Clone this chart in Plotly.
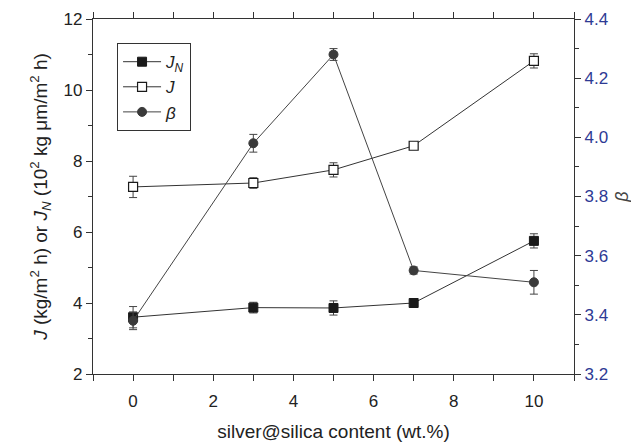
import plotly.graph_objects as go

content = [0, 3, 5, 7, 10]
JN = [3.60, 3.87, 3.86, 4.00, 5.75]
JN_err = [0.30, 0.15, 0.20, 0.05, 0.20]
J = [7.27, 7.38, 7.75, 8.43, 10.82]
J_err = [0.30, 0.15, 0.20, 0.05, 0.20]
beta = [3.38, 3.98, 4.28, 3.55, 3.51]
beta_err = [0.03, 0.03, 0.02, 0.012, 0.04]

font = "Liberation Sans, Arial, sans-serif"
line_col = "#333333"
blue = "#2e3a94"

fig = go.Figure()
fig.add_trace(go.Scatter(
    x=content, y=JN, mode="lines+markers", name="<i>J<sub>N</sub></i>",
    line=dict(color=line_col, width=1),
    marker=dict(symbol="square", size=9, color="#1a1a1a", line=dict(color="#1a1a1a", width=1)),
    error_y=dict(type="data", array=JN_err, color="#444444", thickness=1, width=4),
))
fig.add_trace(go.Scatter(
    x=content, y=J, mode="lines+markers", name="<i>J</i>",
    line=dict(color=line_col, width=1),
    marker=dict(symbol="square", size=9, color="white", line=dict(color="#1a1a1a", width=1.2)),
    error_y=dict(type="data", array=J_err, color="#444444", thickness=1, width=4),
))
fig.add_trace(go.Scatter(
    x=content, y=beta, mode="lines+markers", name="<i>β</i>", yaxis="y2",
    line=dict(color="#444444", width=1),
    marker=dict(symbol="circle", size=9, color="#3a3a3a", line=dict(color="#3a3a3a", width=1)),
    error_y=dict(type="data", array=beta_err, color="#444444", thickness=1, width=4),
))

axis_common = dict(
    showline=True, linecolor="#333333", linewidth=1.2, ticks="outside",
    tickcolor="#333333", ticklen=6, tickwidth=1, showgrid=False, zeroline=False,
    tickfont=dict(family=font, size=17, color="#222222"), automargin=False,
)

fig.update_layout(
    width=639, height=443,
    margin=dict(l=85, r=73, t=11, b=77, autoexpand=False),
    paper_bgcolor="white", plot_bgcolor="white",
    font=dict(family=font, color="#222222"),
    xaxis=dict(
        **axis_common, range=[-1, 11], tickvals=[0, 2, 4, 6, 8, 10], mirror="allticks",
        ticklabelstandoff=5,
        minor=dict(tickvals=[-1, 1, 3, 5, 7, 9, 11], ticks="outside", ticklen=4, tickcolor="#333333"),
        title=dict(text="silver@silica content (wt.%)", font=dict(family=font, size=19, color="#222222"), standoff=15),
    ),
    yaxis=dict(
        **axis_common, range=[2, 12], tickvals=[2, 4, 6, 8, 10, 12],
        minor=dict(tickvals=[3, 5, 7, 9, 11], ticks="outside", ticklen=4, tickcolor="#333333"),
        title=dict(text="<i>J</i> (kg/m<sup>2</sup> h) or <i>J<sub>N</sub></i> (10<sup>2</sup> kg μm/m<sup>2</sup> h)",
                   font=dict(family=font, size=19, color="#222222"), standoff=10),
    ),
    yaxis2=dict(
        showline=True, linecolor="#333333", linewidth=1.2, ticks="outside",
        tickcolor="#333333", ticklen=6, showgrid=False, zeroline=False, automargin=False,
        overlaying="y", side="right", range=[3.2, 4.4],
        tickvals=[3.2, 3.4, 3.6, 3.8, 4.0, 4.2, 4.4], ticktext=["3.2", "3.4", "3.6", "3.8", "4.0", "4.2", "4.4"],
        minor=dict(tickvals=[3.3, 3.5, 3.7, 3.9, 4.1, 4.3], ticks="outside", ticklen=4, tickcolor="#333333"),
        tickfont=dict(family=font, size=17, color=blue),
        title=dict(text="<i>β</i>", font=dict(family=font, size=18, color="#444444"), standoff=8),
    ),
    legend=dict(
        x=0.05, y=0.932, xanchor="left", yanchor="top",
        bordercolor="#333333", borderwidth=1, bgcolor="white",
        font=dict(family=font, size=17, color="#222222"),
        itemwidth=38, tracegroupgap=0,
    ),
    showlegend=True,
)

fig.write_html("out.html")
